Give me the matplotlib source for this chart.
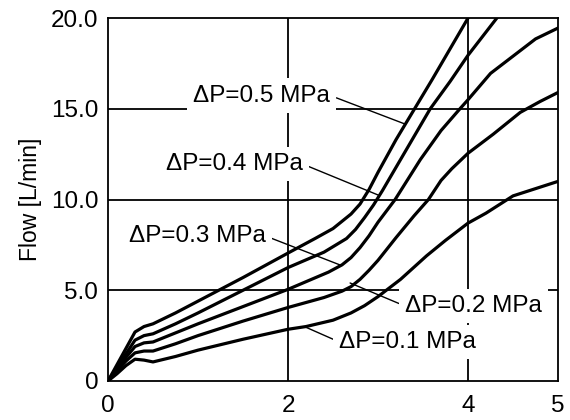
import matplotlib
matplotlib.use("Agg")
import matplotlib.pyplot as plt

plt.rcParams['font.family'] = ['Liberation Sans', 'DejaVu Sans']

# curves (x: unlabeled axis, y: flow in L/min)
x_05 = [0, 0.1, 0.2, 0.3, 0.4, 0.5, 0.75, 1.0, 1.5, 2.0, 2.3, 2.5, 2.6, 2.7, 2.8, 2.9, 3.0, 3.2, 3.4, 3.6, 3.8, 4.0]
y_05 = [0, 0.9, 1.8, 2.7, 3.0, 3.15, 3.75, 4.4, 5.7, 7.05, 7.85, 8.4, 8.8, 9.2, 9.75, 10.55, 11.5, 13.3, 14.95, 16.6, 18.3, 20.0]

x_04 = [0, 0.1, 0.2, 0.3, 0.4, 0.5, 0.75, 1.0, 1.5, 2.0, 2.4, 2.65, 2.75, 2.85, 2.95, 3.05, 3.25, 3.58, 3.8, 4.0, 4.32]
y_04 = [0, 0.75, 1.5, 2.25, 2.5, 2.6, 3.15, 3.75, 5.0, 6.25, 7.1, 7.85, 8.35, 9.0, 9.7, 10.5, 12.2, 15.0, 16.5, 17.95, 20.0]

x_03 = [0, 0.1, 0.2, 0.3, 0.4, 0.5, 0.75, 1.0, 1.5, 2.0, 2.45, 2.6, 2.7, 2.8, 2.9, 3.0, 3.19, 3.47, 3.7, 3.91, 4.0, 4.25, 4.5, 4.75, 5.0]
y_03 = [0, 0.65, 1.3, 1.9, 2.1, 2.15, 2.65, 3.15, 4.1, 5.05, 6.0, 6.4, 6.8, 7.35, 8.0, 8.75, 10.0, 12.2, 13.8, 15.0, 15.5, 16.95, 17.9, 18.85, 19.45]

x_02 = [0, 0.1, 0.2, 0.3, 0.4, 0.5, 0.75, 1.0, 1.5, 2.0, 2.4, 2.6, 2.7, 2.8, 2.9, 3.0, 3.2, 3.4, 3.56, 3.7, 3.82, 4.0, 4.28, 4.58, 4.8, 5.0]
y_02 = [0, 0.55, 1.1, 1.55, 1.65, 1.65, 2.05, 2.5, 3.3, 4.05, 4.6, 4.95, 5.2, 5.6, 6.1, 6.65, 7.9, 9.1, 10.0, 11.05, 11.7, 12.55, 13.6, 14.8, 15.4, 15.9]

x_01 = [0, 0.1, 0.2, 0.3, 0.4, 0.5, 0.75, 1.0, 1.5, 2.0, 2.2, 2.5, 2.7, 2.85, 3.0, 3.25, 3.54, 3.75, 4.0, 4.2, 4.5, 4.75, 5.0]
y_01 = [0, 0.4, 0.85, 1.2, 1.15, 1.05, 1.35, 1.7, 2.3, 2.85, 3.0, 3.35, 3.75, 4.15, 4.65, 5.6, 6.9, 7.75, 8.7, 9.25, 10.2, 10.6, 11.0]

labels = ['ΔP=0.5 MPa', 'ΔP=0.4 MPa', 'ΔP=0.3 MPa', 'ΔP=0.2 MPa', 'ΔP=0.1 MPa']
x_ticks = [0, 2, 4, 5]
x_ticklabels = ['0', '2', '4', '5']
y_ticks = [0, 5, 10, 15, 20]
y_ticklabels = ['0', '5.0', '10.0', '15.0', '20.0']

fig = plt.figure(figsize=(5.7, 4.2), dpi=100)
ax = fig.add_axes([0.1895, 0.0929, 0.7895, 0.8641])

curves = [(x_05, y_05), (x_04, y_04), (x_03, y_03), (x_02, y_02), (x_01, y_01)]
for xs, ys in curves:
    ax.plot(xs, ys, color='black', lw=2.3, solid_joinstyle='round', zorder=3)

ax.set_xlim(0, 5)
ax.set_ylim(0, 20)
ax.set_xticks(x_ticks)
ax.set_xticklabels(x_ticklabels)
ax.set_yticks(y_ticks)
ax.set_yticklabels(y_ticklabels)
ax.tick_params(length=0, labelsize=17.5)
ax.tick_params(axis='x', pad=10)
ax.tick_params(axis='y', pad=7)
for s in ax.spines.values():
    s.set_linewidth(1.3)

# grid lines
for gx in [2, 4]:
    ax.axvline(gx, color='black', lw=1.3, zorder=1)
for gy in [5, 10, 15]:
    ax.axhline(gy, color='black', lw=1.3, zorder=1)

ax.set_ylabel('Flow [L/min]', fontsize=16.5, labelpad=6)

# label text centre, curve point, side where the leader starts
text_pos = [(1.71, 15.73), (1.40, 11.96), (0.99, 7.99), (4.06, 4.13), (3.33, 2.15)]
curve_pt = [(3.30, 14.16), (3.00, 10.25), (2.58, 6.39), (2.69, 5.40), (2.19, 2.98)]
rel = [(1, 0.5), (1, 0.5), (1, 0.5), (0, 0.5), (0, 0.5)]
for lab, tp, cp, r in zip(labels, text_pos, curve_pt, rel):
    ax.annotate(lab, xy=cp, xytext=tp, ha='center', va='center', fontsize=17.5,
                bbox=dict(boxstyle='square,pad=0.25', fc='white', ec='none'),
                arrowprops=dict(arrowstyle='-', color='black', lw=1.0,
                                shrinkA=0, shrinkB=0, relpos=r),
                zorder=2)

fig.savefig('out.png', dpi=100)
